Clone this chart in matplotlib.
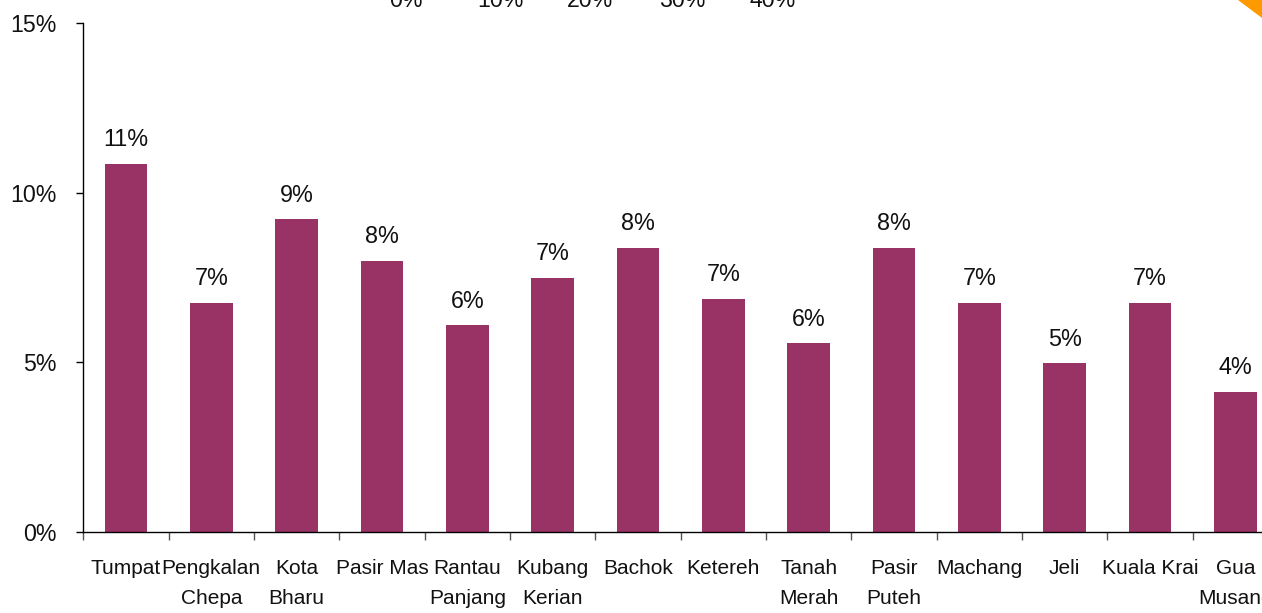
import numpy as np
import matplotlib
matplotlib.use("Agg")
import matplotlib.pyplot as plt
from matplotlib.patches import Polygon

plt.rcParams['font.family'] = ['Liberation Sans', 'DejaVu Sans']

# data
districts = ["Tumpat", "Pengkalan\nChepa", "Kota\nBharu", "Pasir Mas", "Rantau\nPanjang",
             "Kubang\nKerian", "Bachok", "Ketereh", "Tanah\nMerah", "Pasir\nPuteh",
             "Machang", "Jeli", "Kuala Krai", "Gua\nMusang"]
shares = [10.85, 6.76, 9.22, 7.99, 6.10, 7.49, 8.37, 6.87, 5.57, 8.37, 6.75, 4.98, 6.75, 4.13]
y_ticks = [0, 5, 10, 15]
# leftover tick labels of the chart above, cut by the page edge
top_labels = ["0%", "10%", "20%", "30%", "40%"]

W, H = 1262, 613
fig = plt.figure(figsize=(W / 100, H / 100), dpi=100)
# the plot area runs past the right edge of the picture, as in the source
ax = fig.add_axes([83.3 / W, 80.7 / H, 1194.7 / W, 509.6 / H])

x = np.arange(len(districts))
ax.bar(x, shares, width=0.5, color="#993366", zorder=2)

for xi, v in zip(x, shares):
    ax.annotate(f"{v:.0f}%", (xi, v), xytext=(0, 12.6), textcoords="offset points",
                ha="center", va="baseline", fontsize=16.8, color="#111111")

ax.set_xlim(-0.5, len(districts) - 0.5)
ax.set_ylim(0, 15)

# category boundaries get the tick marks, centres get the labels
ax.set_xticks(np.arange(len(districts) + 1) - 0.5)
ax.set_xticklabels([])
ax.set_xticks(x, minor=True)
ax.set_xticklabels(districts, minor=True, fontsize=15, linespacing=1.68, color="#111111")
ax.tick_params(axis="x", which="major", length=5.5, width=1, color="#555555")
ax.tick_params(axis="x", which="minor", length=0, pad=19.5)

ax.set_yticks(y_ticks)
ax.set_yticklabels([f"{t}%" for t in y_ticks], fontsize=16.7, color="#111111")
ax.tick_params(axis="y", length=5, width=1, pad=14)

for side in ["top", "right"]:
    ax.spines[side].set_visible(False)
for side in ["left", "bottom"]:
    ax.spines[side].set_linewidth(1)
    ax.spines[side].set_color("black")

top_x = [406, 500, 590, 682, 773]
for tx, lab in zip(top_x, top_labels):
    fig.text(tx / W, 1 - 7.3 / H, lab, ha="center", va="baseline", fontsize=16.7, color="#111111")

# bit of an orange shape in the top right corner
fig.patches.append(Polygon([(1238 / W, 1), (1, 1), (1, 1 - 18 / H)], closed=True,
                           transform=fig.transFigure, facecolor="#FF9900", edgecolor="none"))

fig.savefig("out.png", dpi=100)
